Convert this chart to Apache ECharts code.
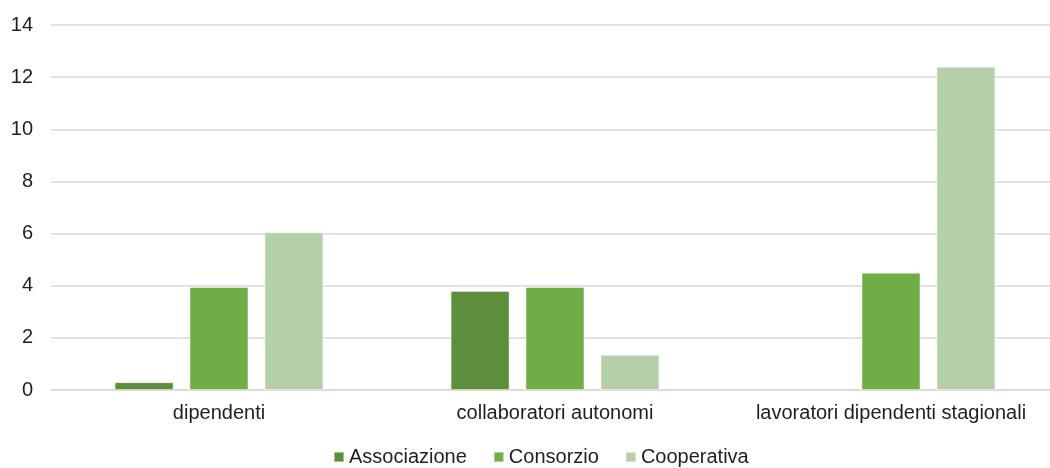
<!DOCTYPE html>
<html>
<head>
<meta charset="utf-8">
<script src="https://cdn.jsdelivr.net/npm/echarts@6/dist/echarts.min.js"></script>
<style>
  html, body { margin: 0; padding: 0; background: #ffffff; overflow: hidden; }
  /* the plot area runs a little past the right edge of the window */
  #chart { width: 1059px; height: 468px; }
</style>
</head>
<body>
<div id="chart"></div>
<script>
// Categorie di lavoratori e valori per tipologia di ente
const categories = ['dipendenti', 'collaboratori autonomi', 'lavoratori dipendenti stagionali'];
const seriesNames = ['Associazione', 'Consorzio', 'Cooperativa'];
const associazione = [0.3, 3.8, 0];
const consorzio = [3.95, 3.95, 4.5];
const cooperativa = [6.05, 1.35, 12.4];
const yTicks = { min: 0, max: 14, interval: 2 };

const colors = ['#5C8E3B', '#70AD47', '#B5CFA8'];
const fontFamily = 'Liberation Sans, Arial, sans-serif';
const textColor = '#1F1F1F';

const chart = echarts.init(document.getElementById('chart'), null, { renderer: 'canvas' });

function barSeries(name, values, color) {
  return {
    name: name,
    type: 'bar',
    // a zero value gets no outline so it leaves no sliver on the axis
    data: values.map(v => v === 0 ? { value: v, itemStyle: { borderWidth: 0 } } : v),
    barWidth: 59,
    barGap: '27%',
    itemStyle: { color: color, borderColor: 'rgba(255,255,255,0.45)', borderWidth: 1 }
  };
}

chart.setOption({
  animation: false,
  textStyle: { fontFamily: fontFamily },
  grid: { left: 51, top: 25, right: 0, height: 365 },
  legend: {
    bottom: -4,
    left: 328,
    itemWidth: 10,
    itemHeight: 10,
    itemGap: 26,
    icon: 'rect',
    textStyle: { fontSize: 20, color: textColor, fontFamily: fontFamily },
    data: seriesNames
  },
  xAxis: {
    type: 'category',
    data: categories,
    axisLine: { show: true, lineStyle: { color: '#D9D9D9', width: 1.5 } },
    axisTick: { show: false },
    axisLabel: { fontSize: 20, color: textColor, margin: 13, interval: 0, hideOverlap: false }
  },
  yAxis: {
    type: 'value',
    min: yTicks.min,
    max: yTicks.max,
    interval: yTicks.interval,
    axisLine: { show: false },
    axisTick: { show: false },
    splitLine: { lineStyle: { color: '#D9D9D9', width: 1.5 } },
    axisLabel: { fontSize: 20, color: textColor, margin: 18 }
  },
  series: [
    barSeries(seriesNames[0], associazione, colors[0]),
    barSeries(seriesNames[1], consorzio, colors[1]),
    barSeries(seriesNames[2], cooperativa, colors[2])
  ]
});
</script>
</body>
</html>
